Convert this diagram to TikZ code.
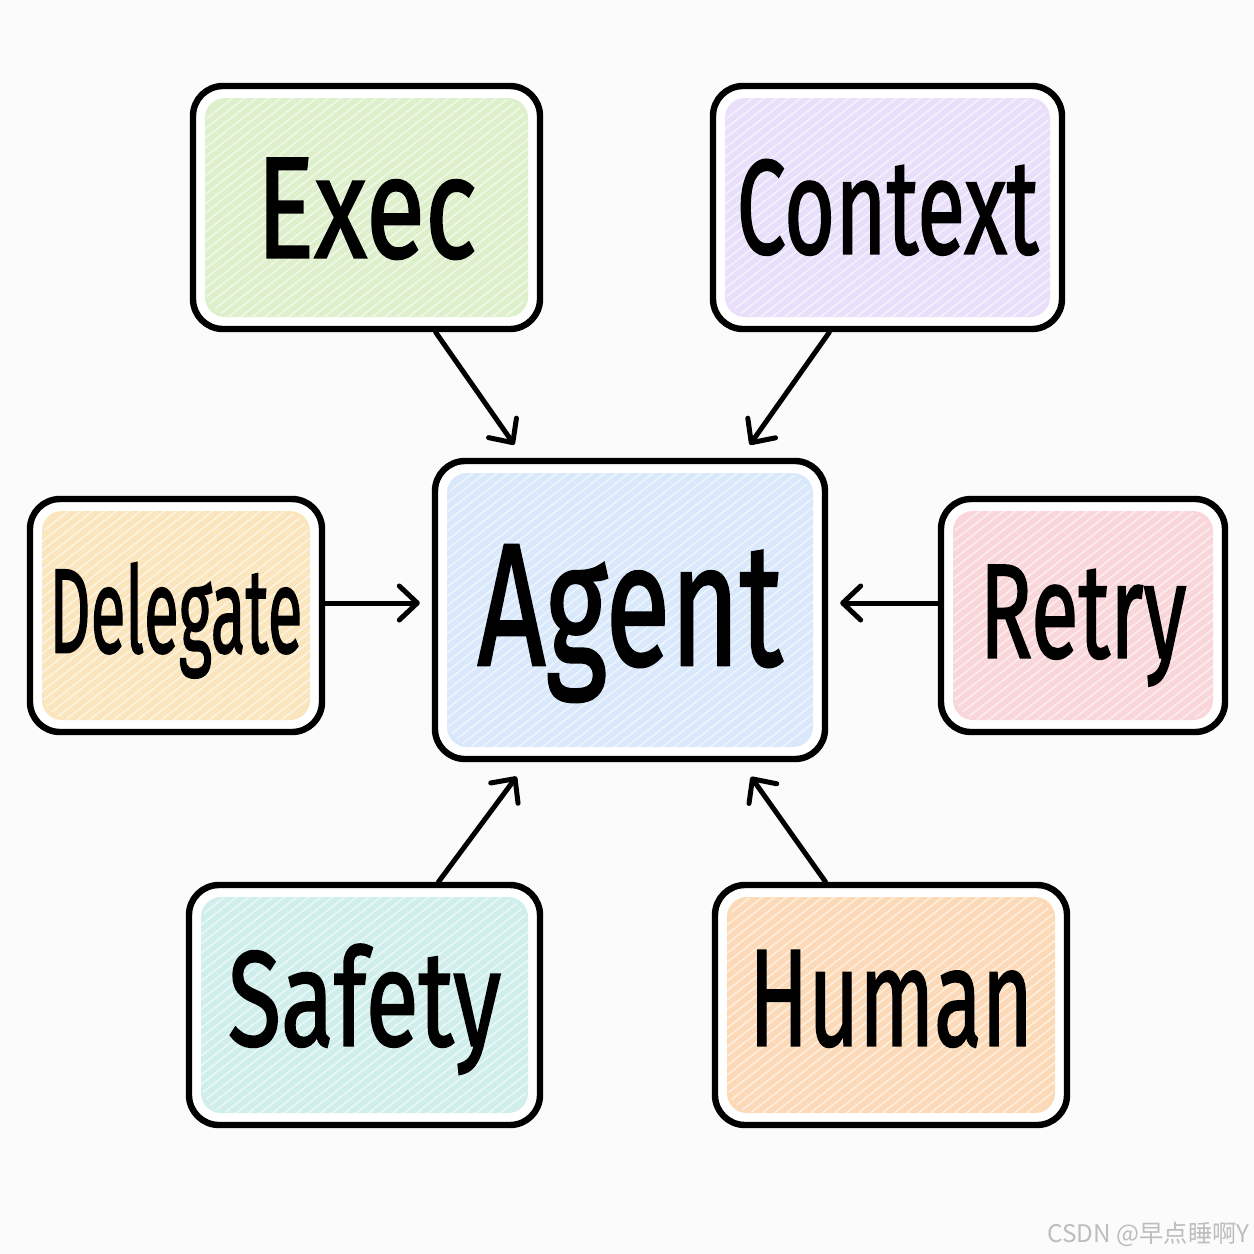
\documentclass[tikz,border=0pt]{standalone}
\usepackage{fontspec}
\setmainfont{Fira Sans}
\newfontfamily\hand[FakeBold=1.6]{Fira Sans}
\newfontfamily\cjk{Noto Sans CJK SC}
\usetikzlibrary{arrows.meta,calc}
\definecolor{bgc}{HTML}{FBFBFB}
\definecolor{cgreen}{HTML}{DDF0CB}
\definecolor{cpurple}{HTML}{E8DFFA}
\definecolor{cblue}{HTML}{D9E8FA}
\definecolor{cyellow}{HTML}{FBE5BD}
\definecolor{cpink}{HTML}{F9D6DA}
\definecolor{ccyan}{HTML}{D0EFEC}
\definecolor{corange}{HTML}{FCDAB8}
\definecolor{wmgray}{HTML}{BDBDBD}
\tikzset{
  box/.style={draw=black, line width=3.2pt, rounded corners=15pt, fill=white,
    inner sep=0pt, text depth=0pt, align=center,
    path picture={
      \fill[#1, rounded corners=10pt]
        ([shift={(6pt,-6pt)}]path picture bounding box.north west) rectangle
        ([shift={(-6pt,6pt)}]path picture bounding box.south east);
      \begin{scope}
        \clip ([shift={(6pt,-6pt)}]path picture bounding box.north west) rectangle
              ([shift={(-6pt,6pt)}]path picture bounding box.south east);
        \foreach \k in {0,...,70}
          \draw[white, line width=0.8pt, opacity=0.55]
            ($(path picture bounding box.south west)+(\k*6pt-200pt,0pt)$) -- ++(38:400pt);
      \end{scope}
    }},
  arr/.style={draw=black, line width=2.5pt, line cap=round,
    -{Straight Barb[length=9pt,width=17pt,round]}},
  lbl/.style={font=\fontsize{#1}{#1}\selectfont\hand},
}
\begin{document}
\begin{tikzpicture}[x=0.5pt,y=-0.5pt]
  \fill[bgc] (0,0) rectangle (1254,1254);
  \useasboundingbox (0,0) rectangle (1254,1254);

  \node[box=cgreen, minimum width=173.5pt, minimum height=121.5pt,
        text height=50pt, lbl=72pt] (exec) at (366.5,207.5)
        {\resizebox{110pt}{\height}{Exec}};
  \node[box=cpurple, minimum width=174.5pt, minimum height=121.5pt,
        text height=46pt, lbl=67pt] (context) at (887.5,207.5)
        {\resizebox{151pt}{\height}{Context}};
  \node[box=cblue, minimum width=195pt, minimum height=149pt,
        text height=60pt, lbl=87pt] (agent) at (630,610)
        {\raisebox{2.5pt}{\resizebox{152.5pt}{\height}{Agent}}};
  \node[box=cyellow, minimum width=146pt, minimum height=116.5pt,
        text height=41pt, lbl=60pt] (delegate) at (176,615.5)
        {\raisebox{2pt}{\resizebox{126.5pt}{\height}{Delegate}}};
  \node[box=cpink, minimum width=142pt, minimum height=116.5pt,
        text height=46pt, lbl=67pt] (retry) at (1083,615.5)
        {\raisebox{2pt}{\resizebox{103.5pt}{\height}{Retry}}};
  \node[box=ccyan, minimum width=175.5pt, minimum height=120pt,
        text height=46.5pt, lbl=67.5pt] (safety) at (364.5,1005)
        {\raisebox{3pt}{\resizebox{136.5pt}{\height}{Safety}}};
  \node[box=corange, minimum width=176pt, minimum height=120pt,
        text height=47.5pt, lbl=69pt] (human) at (891,1005)
        {\raisebox{3.5pt}{\resizebox{142pt}{\height}{Human}}};

  \coordinate (ly) at (0,603);
  \draw[arr, shorten >=8pt] (exec.-61) -- (agent.125.6);
  \draw[arr, shorten >=8pt] (context.-115.8) -- (agent.54.4);
  \draw[arr, shorten >=6pt] (delegate.east |- ly) -- (agent.west |- ly);
  \draw[arr, shorten >=6pt] (retry.west |- ly) -- (agent.east |- ly);
  \draw[arr, shorten >=9pt] (safety.59.9) -- (agent.-124.9);
  \draw[arr, shorten >=9pt] (human.118.2) -- (agent.-54.8);

  \node[anchor=east, inner sep=0pt, text=wmgray] (wm) at (1250,1234)
    {\resizebox{101pt}{!}{\cjk CSDN @早点睡啊Y}};
\end{tikzpicture}
\end{document}
